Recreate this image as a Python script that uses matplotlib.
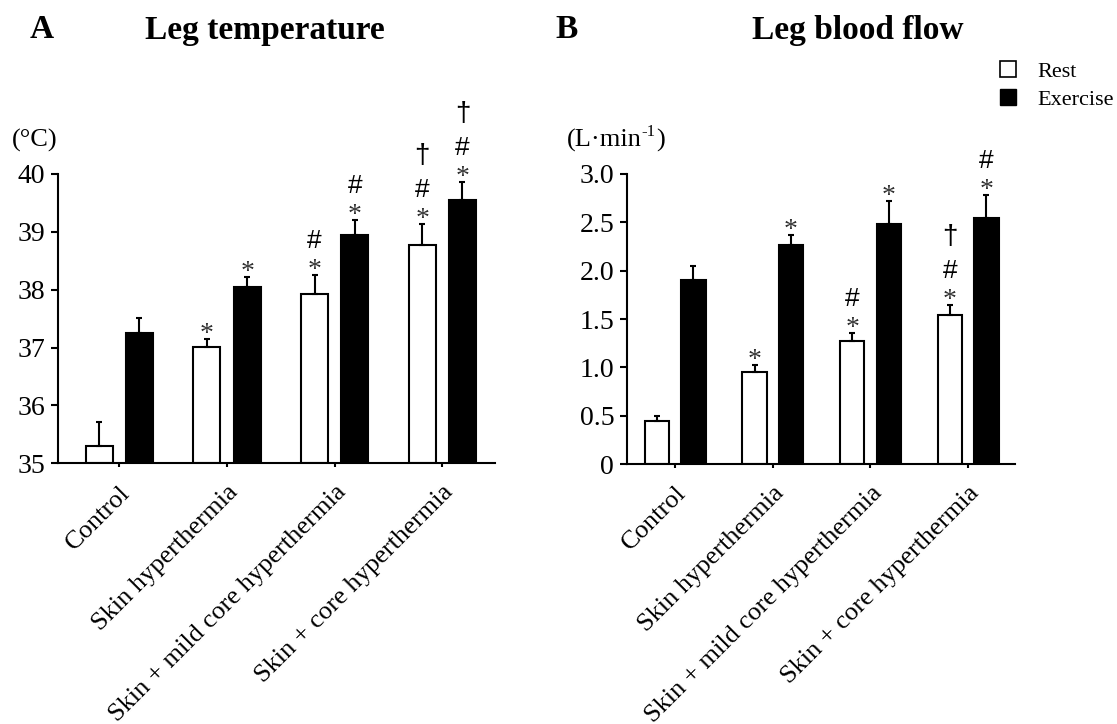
import numpy as np
import matplotlib
matplotlib.use("Agg")
import matplotlib.pyplot as plt
from matplotlib.patches import Patch

plt.rcParams['font.family'] = ['Liberation Serif', 'DejaVu Sans']

conditions = ["Control", "Skin hyperthermia", "Skin + mild core hyperthermia",
              "Skin + core hyperthermia"]

# leg temperature, deg C (mean and SE)
temp_rest = [35.30, 37.01, 37.92, 38.77]
temp_rest_se = [0.42, 0.14, 0.33, 0.37]
temp_ex = [37.25, 38.05, 38.95, 39.55]
temp_ex_se = [0.27, 0.17, 0.26, 0.32]
temp_rest_marks = ["", "*", "*#", "*#†"]
temp_ex_marks = ["", "*", "*#", "*#†"]

# leg blood flow, L/min (mean and SE)
flow_rest = [0.45, 0.95, 1.27, 1.54]
flow_rest_se = [0.05, 0.07, 0.09, 0.10]
flow_ex = [1.90, 2.27, 2.48, 2.54]
flow_ex_se = [0.15, 0.10, 0.24, 0.24]
flow_rest_marks = ["", "*", "*#", "*#†"]
flow_ex_marks = ["", "*", "*", "*#"]

temp_ticks = [35, 36, 37, 38, 39, 40]
flow_ticks = [0, 0.5, 1.0, 1.5, 2.0, 2.5, 3.0]
flow_ticklabels = ["0", "0.5", "1.0", "1.5", "2.0", "2.5", "3.0"]

fig = plt.figure(figsize=(11.17, 7.24), dpi=100)
axA = fig.add_axes([0.0519, 0.360, 0.3913, 0.3997])
axB = fig.add_axes([0.5611, 0.359, 0.3476, 0.4007])

off = 0.187
w = 0.25
# symbol -> (pixel offset of baseline above error bar, size, family, colour)
sym_style = {"*": (-2, 20, "Liberation Serif", "#303030"),
             "#": (27, 19, "Liberation Sans", "black"),
             "†": (61, 20, "Liberation Sans", "black")}


def mark(ax, x, top, marks):
    for s in marks:
        dy, size, fam, col = sym_style[s]
        ax.annotate(s, xy=(x, top), xytext=(0, dy), textcoords="offset pixels",
                    ha="center", va="baseline", fontsize=size, family=fam,
                    color=col, annotation_clip=False)


def panel(ax, rest, rest_se, ex, ex_se, rest_marks, ex_marks, base):
    x = np.arange(len(conditions))
    rest_h = np.array(rest) - base
    ex_h = np.array(ex) - base
    ax.bar(x - off, rest_h, w, bottom=base, color="white", edgecolor="black",
           linewidth=1.5, zorder=2)
    ax.bar(x + off, ex_h, w, bottom=base, color="black", edgecolor="black",
           linewidth=1.5, zorder=2)
    ax.errorbar(x - off, rest, yerr=[np.zeros(len(x)), rest_se], fmt="none",
                ecolor="black", elinewidth=1.5, capsize=2.5, capthick=1.5, zorder=3)
    ax.errorbar(x + off, ex, yerr=[np.zeros(len(x)), ex_se], fmt="none",
                ecolor="black", elinewidth=1.5, capsize=2.5, capthick=1.5, zorder=3)
    for i in range(len(x)):
        mark(ax, x[i] - off, rest[i] + rest_se[i], rest_marks[i])
        mark(ax, x[i] + off, ex[i] + ex_se[i], ex_marks[i])
    ax.set_xticks(x)
    ax.set_xticklabels(conditions, rotation=45, ha="right", va="top",
                       rotation_mode="anchor", fontsize=19)
    for s in ["top", "right"]:
        ax.spines[s].set_visible(False)
    for s in ["left", "bottom"]:
        ax.spines[s].set_linewidth(1.5)
    ax.tick_params(axis="y", direction="out", length=5, width=1.5, labelsize=20, pad=4)
    ax.tick_params(axis="x", direction="out", length=3, width=1.5, pad=10)


panel(axA, temp_rest, temp_rest_se, temp_ex, temp_ex_se,
      temp_rest_marks, temp_ex_marks, 35)
axA.set_ylim(35, 40)
axA.set_xlim(-0.57, 3.49)
axA.set_yticks(temp_ticks)
axA.text(-0.105, 1.117, "(°C)", transform=axA.transAxes, fontsize=19,
         ha="left", va="center")

panel(axB, flow_rest, flow_rest_se, flow_ex, flow_ex_se,
      flow_rest_marks, flow_ex_marks, 0)
axB.set_ylim(0, 3.0)
axB.set_xlim(-0.495, 3.48)
axB.set_yticks(flow_ticks)
axB.set_yticklabels(flow_ticklabels)

# unit label with a small raised "-1"
t1 = axB.text(-0.154, 1.116, "(L·min", transform=axB.transAxes, fontsize=19,
              ha="left", va="center")
t2 = axB.annotate("-1", xy=(1, 0.5), xycoords=t1, fontsize=12,
                  ha="left", va="bottom")
axB.annotate(")", xy=(1, 0), xycoords=(t2, t1), fontsize=19,
             ha="left", va="bottom")

fig.text(30 / 1117, 1 - 30 / 724, "A", fontsize=24, fontweight="bold", va="center")
fig.text(265 / 1117, 1 - 30 / 724, "Leg temperature", fontsize=24,
         fontweight="bold", va="center", ha="center")
fig.text(555 / 1117, 1 - 30 / 724, "B", fontsize=24, fontweight="bold", va="center")
fig.text(858 / 1117, 1 - 30 / 724, "Leg blood flow", fontsize=24,
         fontweight="bold", va="center", ha="center")

handles = [Patch(facecolor="white", edgecolor="black", linewidth=1.2, label="Rest"),
           Patch(facecolor="black", edgecolor="black", label="Exercise")]
fig.legend(handles=handles, loc="upper left", bbox_to_anchor=(1000 / 1117, 1 - 61 / 724),
           frameon=False, fontsize=16, handlelength=0.7, handleheight=0.7,
           handletextpad=1.0, labelspacing=0.35, borderpad=0, borderaxespad=0)

fig.savefig("out.png", dpi=100)
